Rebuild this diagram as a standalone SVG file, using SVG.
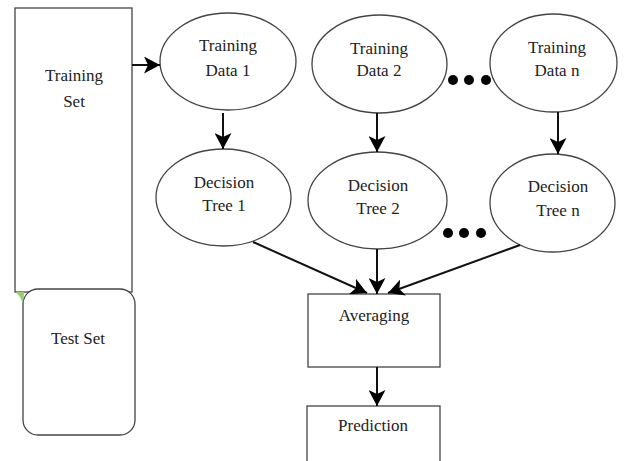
<svg xmlns="http://www.w3.org/2000/svg" width="625" height="461" viewBox="0 0 625 461">
  <style>
    .box { fill: #fff; stroke: #444; stroke-width: 1.3; }
    .lbl { font-family: 'Liberation Serif', 'DejaVu Serif', 'Times New Roman', serif; font-size: 17px; fill: #222; text-anchor: middle; }
    .edge { stroke: #111; stroke-width: 2; fill: none; marker-end: url(#head); }
    .dot { fill: #000; }
  </style>
  <defs>
    <marker id="head" markerUnits="userSpaceOnUse" markerWidth="17" markerHeight="17" viewBox="0 0 17 17" refX="16" refY="8.5" orient="auto">
      <path d="M0,0 L16,8.5 L0,17 L4,8.5 Z" fill="#000"/>
    </marker>
  </defs>

  <rect width="625" height="461" fill="#fff"/>

  <g font-family="Liberation Serif, DejaVu Serif, serif">
  <g id="training-set">
    <rect class="box" x="15" y="8" width="117" height="284"/>
    <text class="lbl" x="74" y="81">Training</text>
    <text class="lbl" x="74" y="107">Set</text>
  </g>

  <g id="test-set">
    <rect class="box" x="23" y="289" width="112" height="146" rx="15" ry="15"/>
    <path d="M16,292 L24,292 Q24,296 23,303 Q20,296 16,292 Z" fill="#9c7"/>
    <text class="lbl" x="78" y="344">Test Set</text>
  </g>

  <g id="training-data-1">
    <ellipse class="box" cx="228" cy="61.5" rx="68" ry="48.5"/>
    <text class="lbl" x="228" y="51">Training</text>
    <text class="lbl" x="228" y="76">Data 1</text>
  </g>

  <g id="training-data-2">
    <ellipse class="box" cx="379.5" cy="64" rx="67.5" ry="49"/>
    <text class="lbl" x="379" y="54">Training</text>
    <text class="lbl" x="379" y="76">Data 2</text>
  </g>

  <g id="training-data-n">
    <ellipse class="box" cx="553.5" cy="63" rx="63.5" ry="49"/>
    <text class="lbl" x="557" y="53">Training</text>
    <text class="lbl" x="557" y="76">Data n</text>
  </g>

  <g id="decision-tree-1">
    <ellipse class="box" cx="223.5" cy="197.5" rx="67.5" ry="48.5"/>
    <text class="lbl" x="224" y="188">Decision</text>
    <text class="lbl" x="224" y="211">Tree 1</text>
  </g>

  <g id="decision-tree-2">
    <ellipse class="box" cx="377.5" cy="200.5" rx="69.5" ry="48.5"/>
    <text class="lbl" x="378" y="191">Decision</text>
    <text class="lbl" x="378" y="214">Tree 2</text>
  </g>

  <g id="decision-tree-n">
    <ellipse class="box" cx="552.5" cy="203" rx="62.5" ry="49"/>
    <text class="lbl" x="558" y="192">Decision</text>
    <text class="lbl" x="558" y="216">Tree n</text>
  </g>

  <g id="averaging">
    <rect class="box" x="308" y="294" width="132" height="73"/>
    <text class="lbl" x="374" y="321">Averaging</text>
  </g>

  <g id="prediction">
    <rect class="box" x="307" y="406" width="133" height="70"/>
    <text class="lbl" x="373" y="431">Prediction</text>
  </g>
  </g>

  <g id="ellipsis">
    <circle class="dot" cx="453" cy="80" r="5"/>
    <circle class="dot" cx="469" cy="80" r="5"/>
    <circle class="dot" cx="486" cy="80" r="5"/>
    <circle class="dot" cx="448" cy="233" r="5"/>
    <circle class="dot" cx="464" cy="233" r="5"/>
    <circle class="dot" cx="481" cy="233" r="5"/>
  </g>

  <g id="connectors">
    <line class="edge" x1="132" y1="65" x2="160" y2="65"/>
    <line class="edge" x1="223" y1="113" x2="223" y2="149"/>
    <line class="edge" x1="377" y1="113" x2="377" y2="152"/>
    <line class="edge" x1="558" y1="112" x2="558" y2="154"/>
    <line class="edge" x1="253" y1="242" x2="367" y2="293"/>
    <line class="edge" x1="377" y1="249" x2="377" y2="294"/>
    <line class="edge" x1="520" y1="245" x2="388" y2="293"/>
    <line class="edge" x1="377" y1="367" x2="377" y2="406"/>
  </g>
</svg>
